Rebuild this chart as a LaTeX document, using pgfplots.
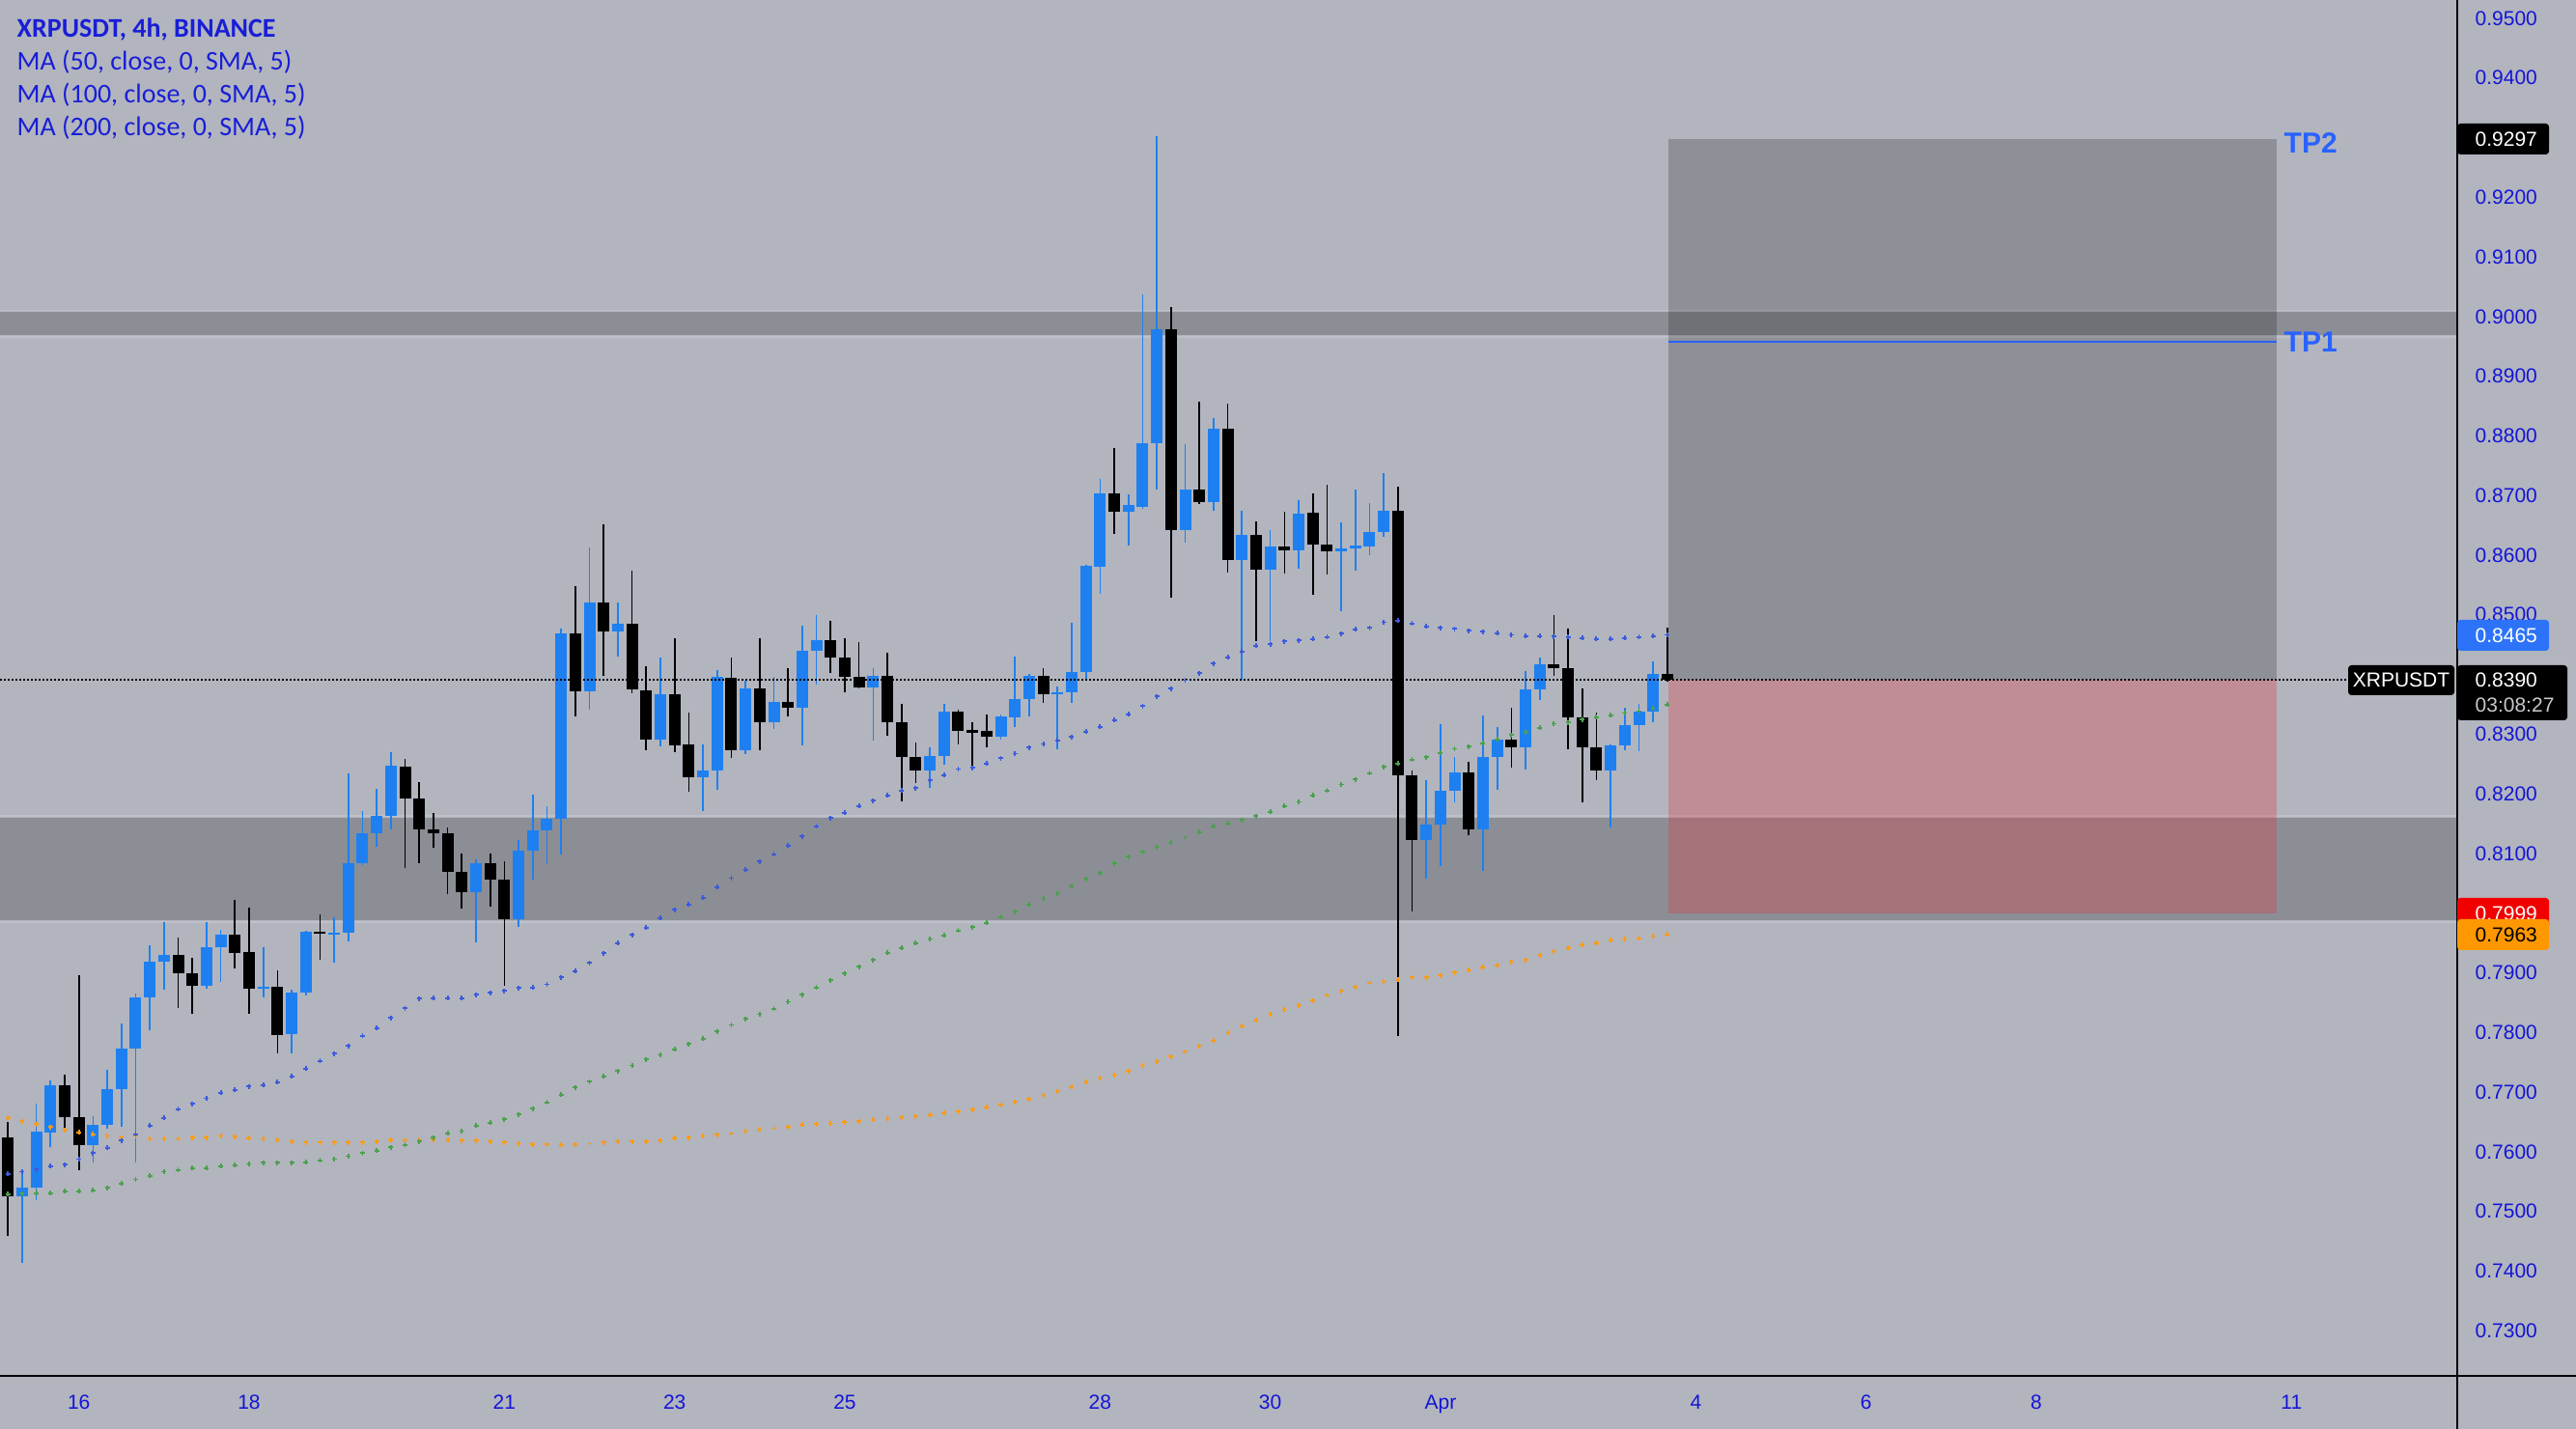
\documentclass[border=0pt]{standalone}
\usepackage{fontspec}
\usepackage{pgfplots}
\usepackage{pgfplotstable}
\pgfplotsset{compat=1.18}
\setmainfont{Liberation Sans}
\newfontfamily\legfont{Carlito}

\definecolor{bg}{RGB}{178,181,190}
\definecolor{upc}{RGB}{30,128,240}
\definecolor{dnc}{RGB}{0,0,0}
\definecolor{maA}{RGB}{61,91,219}
\definecolor{maB}{RGB}{76,160,80}
\definecolor{maC}{RGB}{247,155,30}
\definecolor{axtxt}{RGB}{20,20,215}
\definecolor{legblue}{RGB}{25,30,215}
\definecolor{tpblue}{RGB}{41,98,255}
\definecolor{lblblue}{RGB}{45,115,250}
\definecolor{redl}{RGB}{242,0,0}
\definecolor{orl}{RGB}{255,152,0}
\definecolor{stopred}{RGB}{225,50,60}
\definecolor{bandedge}{RGB}{190,193,201}
\definecolor{timegray}{RGB}{200,200,205}

\pgfplotstableread[row sep=\\]{
k o h l c\\
2 0.7525 0.7566 0.7413 0.7539\\
3 0.7539 0.7680 0.7518 0.7633\\
4 0.7632 0.7719 0.7608 0.7711\\
7 0.7611 0.7659 0.7581 0.7644\\
8 0.7644 0.7737 0.7638 0.7704\\
9 0.7704 0.7815 0.7641 0.7773\\
10 0.7773 0.7865 0.7581 0.7859\\
11 0.7859 0.7946 0.7803 0.7918\\
12 0.7918 0.7985 0.7871 0.7930\\
15 0.7877 0.7985 0.7872 0.7942\\
16 0.7942 0.7971 0.7885 0.7964\\
19 0.7873 0.7943 0.7859 0.7876\\
21 0.7796 0.7871 0.7764 0.7867\\
22 0.7867 0.7970 0.7862 0.7968\\
24 0.7965 0.7993 0.7917 0.7966\\
25 0.7966 0.8234 0.7952 0.8084\\
26 0.8084 0.8171 0.8080 0.8133\\
27 0.8133 0.8208 0.8111 0.8163\\
28 0.8163 0.8270 0.8140 0.8246\\
34 0.8035 0.8089 0.7951 0.8083\\
37 0.7989 0.8122 0.7977 0.8104\\
38 0.8104 0.8199 0.8056 0.8139\\
39 0.8139 0.8179 0.8081 0.8157\\
40 0.8157 0.8477 0.8098 0.8468\\
42 0.8372 0.8613 0.8341 0.8521\\
44 0.8471 0.8520 0.8430 0.8484\\
47 0.8290 0.8428 0.8279 0.8366\\
50 0.8227 0.8283 0.8171 0.8239\\
51 0.8239 0.8407 0.8206 0.8396\\
53 0.8273 0.8389 0.8266 0.8377\\
55 0.8320 0.8395 0.8308 0.8353\\
57 0.8344 0.8481 0.8281 0.8439\\
58 0.8439 0.8499 0.8383 0.8457\\
62 0.8378 0.8410 0.8289 0.8398\\
66 0.8238 0.8277 0.8209 0.8263\\
67 0.8263 0.8350 0.8249 0.8337\\
71 0.8295 0.8333 0.8291 0.8329\\
72 0.8327 0.8430 0.8312 0.8358\\
73 0.8358 0.8400 0.8330 0.8398\\
75 0.8367 0.8379 0.8275 0.8370\\
76 0.8370 0.8486 0.8352 0.8403\\
77 0.8403 0.8583 0.8392 0.8581\\
78 0.8581 0.8728 0.8535 0.8704\\
80 0.8672 0.8701 0.8615 0.8684\\
81 0.8680 0.9036 0.8677 0.8787\\
82 0.8787 0.9302 0.8710 0.8979\\
84 0.8642 0.8786 0.8621 0.8710\\
86 0.8689 0.8829 0.8674 0.8811\\
88 0.8591 0.8674 0.8390 0.8634\\
90 0.8576 0.8642 0.8455 0.8614\\
92 0.8608 0.8692 0.8577 0.8670\\
95 0.8606 0.8654 0.8506 0.8611\\
96 0.8611 0.8710 0.8573 0.8615\\
97 0.8615 0.8687 0.8599 0.8639\\
98 0.8639 0.8737 0.8630 0.8674\\
101 0.8122 0.8222 0.8058 0.8148\\
102 0.8148 0.8317 0.8079 0.8205\\
103 0.8205 0.8262 0.8185 0.8235\\
105 0.8140 0.8331 0.8070 0.8262\\
106 0.8262 0.8312 0.8206 0.8291\\
108 0.8277 0.8405 0.8241 0.8374\\
109 0.8374 0.8428 0.8357 0.8416\\
114 0.8239 0.8283 0.8143 0.8281\\
115 0.8281 0.8343 0.8273 0.8314\\
116 0.8314 0.8350 0.8271 0.8338\\
117 0.8338 0.8421 0.8319 0.8400\\
}\up

\pgfplotstableread[row sep=\\]{
k o h l c\\
1 0.7623 0.7650 0.7458 0.7525\\
5 0.7711 0.7729 0.7632 0.7657\\
6 0.7657 0.7895 0.7569 0.7611\\
13 0.7930 0.7958 0.7840 0.7898\\
14 0.7898 0.7925 0.7831 0.7877\\
17 0.7964 0.8021 0.7907 0.7932\\
18 0.7934 0.8008 0.7831 0.7873\\
20 0.7876 0.7903 0.7764 0.7795\\
23 0.7968 0.7997 0.7921 0.7965\\
29 0.8245 0.8258 0.8075 0.8192\\
30 0.8192 0.8220 0.8084 0.8140\\
31 0.8140 0.8167 0.8109 0.8133\\
32 0.8133 0.8143 0.8032 0.8068\\
33 0.8068 0.8099 0.8008 0.8035\\
35 0.8083 0.8099 0.8011 0.8056\\
36 0.8056 0.8086 0.7877 0.7989\\
41 0.8468 0.8548 0.8329 0.8372\\
43 0.8521 0.8652 0.8398 0.8471\\
45 0.8484 0.8574 0.8368 0.8374\\
46 0.8373 0.8413 0.8273 0.8290\\
48 0.8366 0.8460 0.8269 0.8280\\
49 0.8282 0.8336 0.8203 0.8227\\
52 0.8394 0.8428 0.8259 0.8273\\
54 0.8377 0.8460 0.8273 0.8320\\
56 0.8354 0.8410 0.8329 0.8344\\
59 0.8457 0.8490 0.8402 0.8428\\
60 0.8428 0.8460 0.8370 0.8395\\
61 0.8395 0.8454 0.8376 0.8378\\
63 0.8398 0.8436 0.8297 0.8320\\
64 0.8320 0.8350 0.8186 0.8261\\
65 0.8261 0.8285 0.8218 0.8238\\
68 0.8337 0.8341 0.8283 0.8305\\
69 0.8305 0.8320 0.8245 0.8303\\
70 0.8305 0.8333 0.8277 0.8295\\
74 0.8398 0.8410 0.8352 0.8367\\
79 0.8704 0.8779 0.8635 0.8672\\
83 0.8979 0.9015 0.8529 0.8642\\
85 0.8710 0.8857 0.8685 0.8689\\
87 0.8811 0.8854 0.8571 0.8591\\
89 0.8634 0.8656 0.8455 0.8576\\
91 0.8614 0.8672 0.8568 0.8608\\
93 0.8670 0.8703 0.8533 0.8618\\
94 0.8618 0.8717 0.8568 0.8606\\
99 0.8674 0.8715 0.7793 0.8230\\
100 0.8230 0.8239 0.8003 0.8122\\
104 0.8235 0.8253 0.8130 0.8140\\
107 0.8291 0.8343 0.8243 0.8277\\
110 0.8416 0.8499 0.8398 0.8410\\
111 0.8410 0.8476 0.8274 0.8328\\
112 0.8328 0.8376 0.8185 0.8277\\
113 0.8277 0.8335 0.8222 0.8239\\
118 0.8400 0.8478 0.8387 0.8390\\
}\down

\pgfplotstableread[row sep=\\]{
k a b c\\
1 0.7562 0.7528 0.7656\\
2 0.7566 0.7529 0.7651\\
3 0.7570 0.7530 0.7646\\
4 0.7575 0.7530 0.7641\\
5 0.7578 0.7533 0.7636\\
6 0.7587 0.7533 0.7632\\
7 0.7597 0.7535 0.7629\\
8 0.7606 0.7539 0.7626\\
9 0.7618 0.7546 0.7623\\
10 0.7629 0.7553 0.7626\\
11 0.7643 0.7559 0.7621\\
12 0.7656 0.7566 0.7621\\
13 0.7671 0.7569 0.7621\\
14 0.7680 0.7572 0.7623\\
15 0.7689 0.7572 0.7623\\
16 0.7698 0.7575 0.7626\\
17 0.7703 0.7577 0.7625\\
18 0.7709 0.7579 0.7622\\
19 0.7711 0.7581 0.7621\\
20 0.7716 0.7581 0.7619\\
21 0.7726 0.7581 0.7617\\
22 0.7739 0.7582 0.7615\\
23 0.7752 0.7585 0.7615\\
24 0.7764 0.7587 0.7615\\
25 0.7777 0.7592 0.7615\\
26 0.7794 0.7597 0.7615\\
27 0.7807 0.7601 0.7617\\
28 0.7824 0.7607 0.7619\\
29 0.7840 0.7611 0.7619\\
30 0.7856 0.7617 0.7619\\
31 0.7857 0.7623 0.7620\\
32 0.7857 0.7630 0.7619\\
33 0.7857 0.7634 0.7618\\
34 0.7863 0.7643 0.7618\\
35 0.7866 0.7648 0.7617\\
36 0.7869 0.7654 0.7615\\
37 0.7874 0.7662 0.7613\\
38 0.7875 0.7672 0.7612\\
39 0.7880 0.7682 0.7612\\
40 0.7892 0.7695 0.7611\\
41 0.7902 0.7707 0.7612\\
42 0.7916 0.7717 0.7613\\
43 0.7932 0.7726 0.7615\\
44 0.7949 0.7735 0.7617\\
45 0.7963 0.7744 0.7617\\
46 0.7975 0.7754 0.7617\\
47 0.7991 0.7762 0.7618\\
48 0.8005 0.7771 0.7622\\
49 0.8014 0.7780 0.7623\\
50 0.8025 0.7789 0.7626\\
51 0.8043 0.7801 0.7628\\
52 0.8058 0.7812 0.7630\\
53 0.8072 0.7822 0.7634\\
54 0.8086 0.7830 0.7637\\
55 0.8098 0.7839 0.7639\\
56 0.8113 0.7851 0.7641\\
57 0.8128 0.7863 0.7645\\
58 0.8145 0.7875 0.7646\\
59 0.8159 0.7887 0.7647\\
60 0.8168 0.7898 0.7649\\
61 0.8179 0.7910 0.7651\\
62 0.8188 0.7921 0.7653\\
63 0.8197 0.7933 0.7655\\
64 0.8205 0.7941 0.7657\\
65 0.8209 0.7949 0.7659\\
66 0.8222 0.7956 0.7661\\
67 0.8231 0.7962 0.7664\\
68 0.8241 0.7970 0.7667\\
69 0.8243 0.7976 0.7670\\
70 0.8250 0.7983 0.7674\\
71 0.8259 0.7993 0.7678\\
72 0.8267 0.8002 0.7683\\
73 0.8277 0.8014 0.7688\\
74 0.8283 0.8024 0.7694\\
75 0.8289 0.8033 0.7701\\
76 0.8295 0.8045 0.7708\\
77 0.8304 0.8057 0.7716\\
78 0.8312 0.8067 0.7723\\
79 0.8323 0.8083 0.7728\\
80 0.8333 0.8094 0.7735\\
81 0.8347 0.8102 0.7744\\
82 0.8363 0.8110 0.7751\\
83 0.8376 0.8118 0.7759\\
84 0.8390 0.8126 0.7767\\
85 0.8402 0.8135 0.7777\\
86 0.8418 0.8145 0.7786\\
87 0.8428 0.8150 0.7799\\
88 0.8438 0.8156 0.7810\\
89 0.8448 0.8162 0.7820\\
90 0.8450 0.8169 0.7830\\
91 0.8455 0.8179 0.7838\\
92 0.8457 0.8186 0.7845\\
93 0.8459 0.8197 0.7853\\
94 0.8462 0.8205 0.7862\\
95 0.8468 0.8215 0.7869\\
96 0.8475 0.8224 0.7876\\
97 0.8478 0.8234 0.7883\\
98 0.8487 0.8245 0.7885\\
99 0.8490 0.8250 0.7888\\
100 0.8485 0.8257 0.7892\\
101 0.8480 0.8261 0.7892\\
102 0.8478 0.8268 0.7895\\
103 0.8476 0.8275 0.7900\\
104 0.8473 0.8279 0.7904\\
105 0.8471 0.8284 0.7909\\
106 0.8469 0.8291 0.7912\\
107 0.8466 0.8298 0.7918\\
108 0.8464 0.8303 0.7921\\
109 0.8464 0.8310 0.7929\\
110 0.8463 0.8317 0.7935\\
111 0.8462 0.8319 0.7941\\
112 0.8461 0.8324 0.7946\\
113 0.8459 0.8328 0.7949\\
114 0.8459 0.8331 0.7954\\
115 0.8461 0.8335 0.7956\\
116 0.8462 0.8338 0.7957\\
117 0.8464 0.8343 0.7961\\
118 0.8466 0.8349 0.7964\\
}\ma

\begin{document}
\begin{tikzpicture}
\fill[bg] (0,0) rectangle (800.4pt,444pt);
\begin{axis}[
  at={(0pt,16.5pt)}, anchor=south west,
  width=763.5pt, height=427.5pt, scale only axis,
  xmin=15.073, xmax=43.948, ymin=0.72237, ymax=0.95303,
  axis line style={draw=none},
  major tick length=0pt, tick style={draw=none},
  ytick={0.73,0.74,0.75,0.76,0.77,0.78,0.79,0.81,0.82,0.83,0.85,0.86,0.87,0.88,0.89,0.90,0.91,0.92,0.94,0.95},
  yticklabels={0.7300,0.7400,0.7500,0.7600,0.7700,0.7800,0.7900,0.8100,0.8200,0.8300,0.8500,0.8600,0.8700,0.8800,0.8900,0.9000,0.9100,0.9200,0.9400,0.9500},
  yticklabel pos=right,
  yticklabel style={anchor=west, inner sep=0pt, xshift=5.4pt, text height=4.5pt, text depth=0pt, text=axtxt, font=\fontsize{6.3}{7}\selectfont},
  xtick={16,18,21,23,25,28,30,32,35,37,39,42},
  xticklabels={16,18,21,23,25,28,30,Apr,4,6,8,11},
  xticklabel style={anchor=base, inner sep=0pt, yshift=-10.5pt, text=axtxt, font=\fontsize{6.3}{7}\selectfont},
  clip=true,
]
% horizontal zones
\fill[black, opacity=0.21] (axis cs:15,0.8969) rectangle (axis cs:44,0.9007);
\fill[black, opacity=0.21] (axis cs:15,0.7987) rectangle (axis cs:44,0.8159);
\draw[bandedge, line width=0.5pt] (axis cs:15,0.9010) -- (axis cs:44,0.9010);
\draw[bandedge, line width=0.5pt] (axis cs:15,0.8965) -- (axis cs:44,0.8965);
\draw[bandedge, line width=0.5pt] (axis cs:15,0.8162) -- (axis cs:44,0.8162);
\draw[bandedge, line width=0.5pt] (axis cs:15,0.7984) -- (axis cs:44,0.7984);
% position box
\fill[black, opacity=0.2] (axis cs:34.678,0.8390) rectangle (axis cs:41.831,0.9297);
\fill[stopred, opacity=0.3] (axis cs:34.678,0.7999) rectangle (axis cs:41.831,0.8390);
\draw[tpblue, line width=0.6pt] (axis cs:34.678,0.8957) -- (axis cs:41.831,0.8957);
% moving averages
\addplot[only marks, mark=+, mark size=0.75pt, mark options={line width=0.55pt, draw=maC}] table[x expr=15+\thisrow{k}/6, y=c] {\ma};
\addplot[only marks, mark=+, mark size=0.75pt, mark options={line width=0.55pt, draw=maB}] table[x expr=15+\thisrow{k}/6, y=b] {\ma};
\addplot[only marks, mark=+, mark size=0.75pt, mark options={line width=0.55pt, draw=maA}] table[x expr=15+\thisrow{k}/6, y=a] {\ma};
% wicks
\addplot[draw=none, mark=none, error bars/.cd, y dir=both, y explicit, error mark=none, error bar style={line width=0.5pt, draw=upc}]
  table[x expr=15+\thisrow{k}/6, y expr={(\thisrow{h}+\thisrow{l})/2}, y error expr={(\thisrow{h}-\thisrow{l})/2}] {\up};
\addplot[draw=none, mark=none, error bars/.cd, y dir=both, y explicit, error mark=none, error bar style={line width=0.5pt, draw=dnc}]
  table[x expr=15+\thisrow{k}/6, y expr={(\thisrow{h}+\thisrow{l})/2}, y error expr={(\thisrow{h}-\thisrow{l})/2}] {\down};
% bodies
\addplot[draw=none, mark=none, error bars/.cd, y dir=both, y explicit, error mark=none, error bar style={line width=3.6pt, draw=upc}]
  table[x expr=15+\thisrow{k}/6, y expr={(\thisrow{o}+\thisrow{c})/2}, y error expr={max(abs(\thisrow{c}-\thisrow{o})/2,0.0002)}] {\up};
\addplot[draw=none, mark=none, error bars/.cd, y dir=both, y explicit, error mark=none, error bar style={line width=3.6pt, draw=dnc}]
  table[x expr=15+\thisrow{k}/6, y expr={(\thisrow{o}+\thisrow{c})/2}, y error expr={max(abs(\thisrow{c}-\thisrow{o})/2,0.0002)}] {\down};
% last price line
\draw[black, line width=0.6pt, dash pattern=on 0.6pt off 0.6pt] (axis cs:15.073,0.8390) -- (axis cs:42.665,0.8390);
\end{axis}
% panel borders
\draw[black, line width=0.6pt] (763.5pt,0pt) -- (763.5pt,444pt);
\draw[black, line width=0.6pt] (0pt,16.5pt) -- (800.4pt,16.5pt);
% price labels
\begin{scope}[font=\fontsize{6.3}{7}\selectfont]
\fill[black, rounded corners=1pt] (763.5pt,396pt) rectangle (792pt,405.6pt);
\node[anchor=west, inner sep=0pt, text=white, text height=4.5pt, text depth=0pt] at (768.9pt,400.8pt) {0.9297};
\fill[lblblue, rounded corners=1pt] (763.5pt,241.8pt) rectangle (792pt,251.4pt);
\node[anchor=west, inner sep=0pt, text=white, text height=4.5pt, text depth=0pt] at (768.9pt,246.6pt) {0.8465};
\fill[black, rounded corners=1pt] (729.6pt,228pt) rectangle (762.6pt,237.3pt);
\node[inner sep=0pt, text=white, text height=4.5pt, text depth=0pt] at (746.1pt,232.65pt) {XRPUSDT};
\fill[black, rounded corners=1pt] (763.5pt,220.2pt) rectangle (797.7pt,237.3pt);
\node[anchor=west, inner sep=0pt, text=white, text height=4.5pt, text depth=0pt] at (768.9pt,232.8pt) {0.8390};
\node[anchor=west, inner sep=0pt, text=timegray, text height=4.5pt, text depth=0pt] at (768.9pt,225pt) {03:08:27};
\fill[redl, rounded corners=1pt] (763.5pt,155.4pt) rectangle (792pt,165pt);
\node[anchor=west, inner sep=0pt, text=white, text height=4.5pt, text depth=0pt] at (768.9pt,160.2pt) {0.7999};
\fill[orl, rounded corners=1pt] (763.5pt,148.8pt) rectangle (792pt,158.4pt);
\node[anchor=west, inner sep=0pt, text=black, text height=4.5pt, text depth=0pt] at (768.9pt,153.6pt) {0.7963};
\end{scope}
% TP labels
\node[anchor=west, inner sep=0pt, text=tpblue, font=\bfseries\fontsize{9}{10}\selectfont] at (709.5pt,399.6pt) {TP2};
\node[anchor=west, inner sep=0pt, text=tpblue, font=\bfseries\fontsize{9}{10}\selectfont] at (709.5pt,337.8pt) {TP1};
% legend
\node[anchor=west, inner sep=0pt, text=legblue, font=\legfont\bfseries\fontsize{8.4}{9}\selectfont] at (5.1pt,434.8pt) {XRPUSDT, 4h, BINANCE};
\node[anchor=west, inner sep=0pt, text=legblue, font=\legfont\fontsize{8.4}{9}\selectfont] at (5.1pt,424.6pt) {MA (50, close, 0, SMA, 5)};
\node[anchor=west, inner sep=0pt, text=legblue, font=\legfont\fontsize{8.4}{9}\selectfont] at (5.1pt,414.4pt) {MA (100, close, 0, SMA, 5)};
\node[anchor=west, inner sep=0pt, text=legblue, font=\legfont\fontsize{8.4}{9}\selectfont] at (5.1pt,404.2pt) {MA (200, close, 0, SMA, 5)};
\pgfresetboundingbox
\path[use as bounding box] (0pt,0pt) rectangle (800.4pt,444pt);
\end{tikzpicture}
\end{document}
